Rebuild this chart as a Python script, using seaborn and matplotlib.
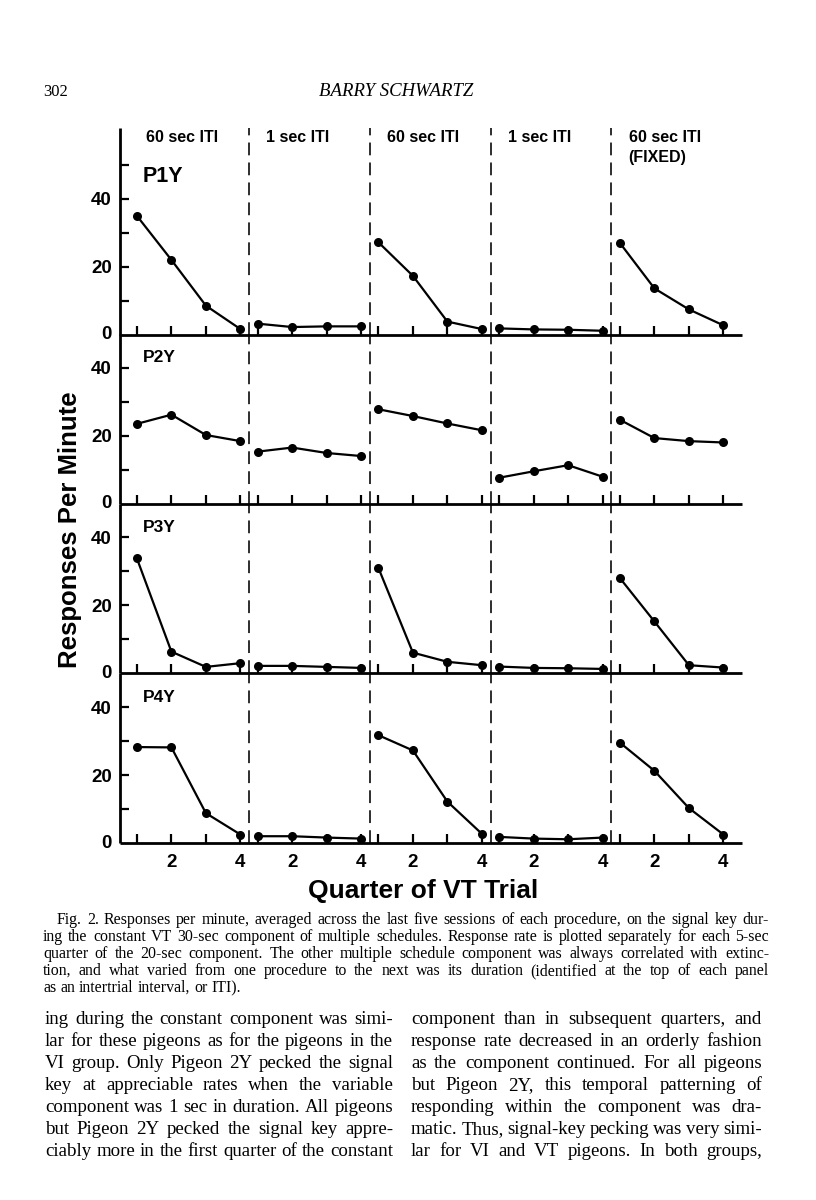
import numpy as np
import pandas as pd
import matplotlib
matplotlib.use("Agg")
import matplotlib.pyplot as plt
import seaborn as sns

# ======================
# DATA
# ======================
pigeons = ["P1Y", "P2Y", "P3Y", "P4Y"]
conditions = ["60 sec ITI", "1 sec ITI", "60 sec ITI", "1 sec ITI", "60 sec ITI\n(FIXED)"]
quarters = [1, 2, 3, 4]

# responses per minute, one row per procedure (condition), four quarters each
p1y = [[35.0, 22.0, 8.5, 1.6],
       [3.2, 2.2, 2.4, 2.4],
       [27.2, 17.3, 3.8, 1.6],
       [1.8, 1.5, 1.4, 1.1],
       [27.0, 13.6, 7.4, 2.7]]
p2y = [[23.5, 26.2, 20.2, 18.4],
       [15.3, 16.5, 14.9, 14.0],
       [27.8, 25.8, 23.6, 21.6],
       [7.6, 9.5, 11.3, 7.9],
       [24.7, 19.3, 18.4, 18.0]]
p3y = [[33.8, 6.3, 1.8, 2.9],
       [2.1, 2.1, 1.8, 1.5],
       [31.0, 6.0, 3.3, 2.3],
       [1.9, 1.5, 1.4, 1.2],
       [28.0, 15.2, 2.3, 1.6]]
p4y = [[28.3, 28.2, 8.8, 2.5],
       [2.0, 2.0, 1.6, 1.3],
       [31.8, 27.3, 12.2, 2.7],
       [1.8, 1.3, 1.1, 1.6],
       [29.6, 21.3, 10.3, 2.5]]
rates = {"P1Y": p1y, "P2Y": p2y, "P3Y": p3y, "P4Y": p4y}

header_text = ["302", "BARRY SCHWARTZ"]
caption_lines = [
    "Fig. 2. Responses per minute, averaged across the last five sessions of each procedure, on the signal key dur-",
    "ing the constant VT 30-sec component of multiple schedules. Response rate is plotted separately for each 5-sec",
    "quarter of the 20-sec component. The other multiple schedule component was always correlated with extinc-",
    "tion, and what varied from one procedure to the next was its duration (identified at the top of each panel",
    "as an intertrial interval, or ITI).",
]
body_left = [
    "ing during the constant component was simi-",
    "lar for these pigeons as for the pigeons in the",
    "VI group. Only Pigeon 2Y pecked the signal",
    "key at appreciable rates when the variable",
    "component was 1 sec in duration. All pigeons",
    "but Pigeon 2Y pecked the signal key appre-",
    "ciably more in the first quarter of the constant",
]
body_right = [
    "component than in subsequent quarters, and",
    "response rate decreased in an orderly fashion",
    "as the component continued. For all pigeons",
    "but Pigeon 2Y, this temporal patterning of",
    "responding within the component was dra-",
    "matic. Thus, signal-key pecking was very simi-",
    "lar for VI and VT pigeons. In both groups,",
]

# =====================
# LAYOUT
# =====================
W, H = 816, 1200
SANS = ["Liberation Sans", "DejaVu Sans"]
SERIF = ["Liberation Serif", "DejaVu Serif"]
GAP = 0.5                        # gap between procedures, in quarter units
SEG = len(quarters) - 1 + GAP    # period of one procedure on the x axis
PX_UNIT = 3.39                   # pixels per response/min
PX_QUARTER = 34.5                # pixels per quarter
AX_LEFT, AX_RIGHT = 120, 742
AX_TOP = 128
BOTTOMS = [334.5, 503.5, 673, 843]

rows = []
for p in pigeons:
    for k, vals in enumerate(rates[p]):
        for q, v in zip(quarters, vals):
            rows.append({"pigeon": p, "segment": k, "quarter": q,
                         "x": k * SEG + (q - 1), "rate": v})
df = pd.DataFrame(rows)

sns.set_style("ticks")
plt.rcParams["font.family"] = SANS
for key in ["text.color", "axes.labelcolor", "xtick.color", "ytick.color", "axes.edgecolor"]:
    plt.rcParams[key] = "black"

fig = plt.figure(figsize=(W / 100, H / 100), dpi=100)

x_lo = -0.49
x_hi = x_lo + (AX_RIGHT - AX_LEFT) / PX_QUARTER
boundaries = [k * SEG - GAP / 2 for k in range(1, len(conditions))]

axes = []
top = AX_TOP
for i, p in enumerate(pigeons):
    bot = BOTTOMS[i]
    ax = fig.add_axes([AX_LEFT / W, 1 - bot / H, (AX_RIGHT - AX_LEFT) / W, (bot - top) / H])
    ax.patch.set_visible(False)
    d = df[df["pigeon"] == p]
    sns.lineplot(data=d, x="x", y="rate", units="segment", estimator=None,
                 color="black", marker="o", markersize=6.5, markeredgewidth=0,
                 linewidth=1.6, ax=ax, legend=False, clip_on=False, zorder=3)
    ax.set_xlim(x_lo, x_hi)
    ax.set_ylim(0, (bot - top) / PX_UNIT)
    for b in boundaries:
        ax.axvline(b, color="black", lw=1.15, ls=(0, (8, 4.5)), zorder=1)
    sns.despine(ax=ax)
    for s in ["left", "bottom"]:
        ax.spines[s].set_linewidth(2.0)
        ax.spines[s].set_capstyle("butt")
    yt = [10, 20, 30, 40] + ([50] if i == 0 else [])
    ax.set_yticks(yt)
    ax.set_yticklabels(["" if v % 20 else str(v) for v in yt])
    ax.set_xticks(df["x"].unique())
    if i == len(pigeons) - 1:
        ax.set_xticklabels([str(q) if q % 2 == 0 else "" for q in quarters * len(conditions)])
    else:
        ax.set_xticklabels([])
    ax.tick_params(axis="both", direction="in", length=6.5, width=1.6,
                   labelsize=13.5, pad=6, top=False, right=False)
    ax.tick_params(axis="x", pad=8)
    for lab in ax.get_xticklabels() + ax.get_yticklabels():
        lab.set_fontweight("bold")
    ax.set_xlabel("")
    ax.set_ylabel("")
    ax.text(0.17, 46.5 if i == 0 else 43.0, p, fontsize=15.5 if i == 0 else 12.5,
            fontweight="bold", va="center", ha="left")
    # zero label sits on the x axis line
    ax.text(-0.72, 0, "0", fontsize=13.5, fontweight="bold", ha="right", va="center")
    axes.append(ax)
    top = bot

# procedure headers (second line of a header drops ~20 px)
for k, c in enumerate(conditions):
    for n, part in enumerate(c.split("\n")):
        axes[0].text(k * SEG + 0.25, 58.0 - n * 20 / PX_UNIT, part, fontsize=11.5,
                     fontweight="bold", ha="left", va="center")

fig.text(70 / W, 1 - 530 / H, "Responses Per Minute", rotation=90, fontsize=18.5,
         fontweight="bold", ha="center", va="center")
fig.text(423 / W, 1 - 891 / H, "Quarter of VT Trial", fontsize=19,
         fontweight="bold", ha="center", va="center")

# =====================
# PAGE TEXT
# =====================
fig.text(43 / W, 1 - 92 / H, header_text[0], family=SERIF, fontsize=12, va="center")
fig.text(396 / W, 1 - 92 / H, header_text[1], family=SERIF, style="italic",
         fontsize=13.5, va="center", ha="center")

renderer = fig.canvas.get_renderer()


def justify(line, x0, x1, y, size, last=False):
    """Place the words of one line so that it fills x0..x1 (pixels)."""
    words = line.split()
    while True:
        arts = [fig.text(0, 1 - y / H, w, family=SERIF, fontsize=size, va="center", ha="left")
                for w in words]
        widths = [a.get_window_extent(renderer).width for a in arts]
        em = size * 100 / 72
        if last or len(words) == 1:
            space = em * 0.25
            break
        space = (x1 - x0 - sum(widths)) / (len(words) - 1)
        if space >= em * 0.17:
            break
        for a in arts:
            a.remove()
        size -= 0.2
    x = x0
    for a, w in zip(arts, widths):
        a.set_x(x / W)
        x += w + space


cap_y = [920, 937, 954, 971, 988]
for j, (line, y) in enumerate(zip(caption_lines, cap_y)):
    x0 = 57 if j == 0 else 43
    justify(line, x0, 769, y, 11.4, last=(j == len(caption_lines) - 1))

body_y = [1020, 1042, 1064, 1086, 1108, 1130, 1152]
for line, y in zip(body_left, body_y):
    justify(line, 45, 393, y, 13.6)
for line, y in zip(body_right, body_y):
    justify(line, 411, 762, y, 13.6)

fig.savefig("out.png", dpi=100)
